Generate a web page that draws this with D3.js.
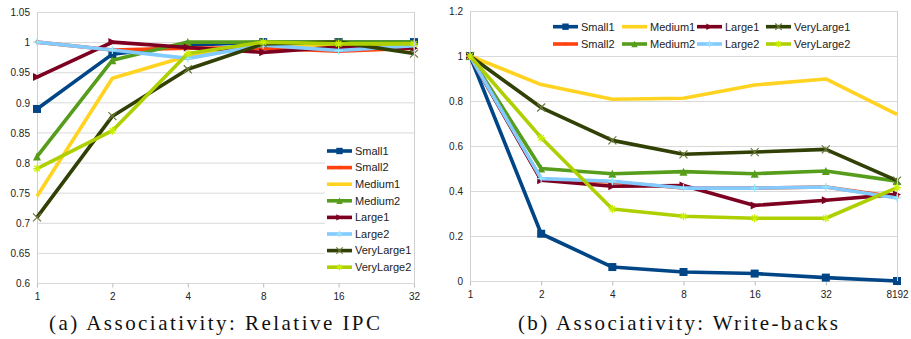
<!DOCTYPE html>
<html>
<head>
<meta charset="utf-8">
<script src="https://cdn.jsdelivr.net/npm/d3@7"></script>
<style>
  body { margin: 0; background: #fff; }
  svg { display: block; }
</style>
</head>
<body>
<div id="chart"></div>
<script>
const seriesNames = ['Small1', 'Small2', 'Medium1', 'Medium2', 'Large1', 'Large2', 'VeryLarge1', 'VeryLarge2'];

const ipcCategories = ['1', '2', '4', '8', '16', '32'];
const ipcTicks = [0.6, 0.65, 0.7, 0.75, 0.8, 0.85, 0.9, 0.95, 1, 1.05];
const ipcSmall1 = [0.889, 0.980, 0.995, 1.000, 1.000, 1.000];
const ipcSmall2 = [1.000, 0.987, 0.990, 0.990, 0.985, 0.990];
const ipcMedium1 = [0.744, 0.940, 0.977, 0.995, 0.995, 0.995];
const ipcMedium2 = [0.810, 0.970, 1.000, 1.000, 1.000, 1.000];
const ipcLarge1 = [0.942, 1.000, 0.991, 0.983, 0.992, 0.990];
const ipcLarge2 = [1.000, 0.987, 0.973, 0.995, 0.986, 0.994];
const ipcVeryLarge1 = [0.709, 0.877, 0.955, 0.997, 1.000, 0.981];
const ipcVeryLarge2 = [0.790, 0.853, 0.981, 1.000, 0.997, 0.997];

const wbCategories = ['1', '2', '4', '8', '16', '32', '8192'];
const wbTicks = [0, 0.2, 0.4, 0.6, 0.8, 1, 1.2];
const wbSmall1 = [1, 0.210, 0.062, 0.040, 0.033, 0.015, 0.000];
const wbSmall2 = [1, 0.450, 0.440, 0.413, 0.413, 0.418, 0.373];
const wbMedium1 = [1, 0.873, 0.808, 0.812, 0.871, 0.898, 0.741];
const wbMedium2 = [1, 0.500, 0.477, 0.486, 0.477, 0.489, 0.444];
const wbLarge1 = [1, 0.448, 0.421, 0.424, 0.336, 0.359, 0.385];
const wbLarge2 = [1, 0.455, 0.443, 0.413, 0.413, 0.418, 0.369];
const wbVeryLarge1 = [1, 0.771, 0.625, 0.563, 0.573, 0.585, 0.446];
const wbVeryLarge2 = [1, 0.637, 0.320, 0.288, 0.279, 0.279, 0.415];

const colors = ['#004586', '#ff420e', '#ffd320', '#579d1c', '#7e0021', '#83caff', '#314004', '#aecf00'];
const markers = ['square', 'diamond', 'none', 'triangle', 'right', 'plus', 'x', 'star'];

const W = 911, H = 339;
const svg = d3.select('#chart').append('svg').attr('width', W).attr('height', H);

function markerPath(kind, s) {
  const h = s / 2;
  switch (kind) {
    case 'square': return `M${-h},${-h}H${h}V${h}H${-h}Z`;
    case 'diamond': return `M0,${-h}L${h},0L0,${h}L${-h},0Z`;
    case 'triangle': return `M0,${-h}L${h},${h}L${-h},${h}Z`;
    case 'right': return `M${-h},${-h}L${h},0L${-h},${h}Z`;
    case 'plus': return `M0,${-h}V${h}M${-h},0H${h}`;
    case 'x': return `M${-h},${-h}L${h},${h}M${h},${-h}L${-h},${h}`;
    case 'star': return `M0,${-h}V${h}M${-h},0H${h}M${-h*0.7},${-h*0.7}L${h*0.7},${h*0.7}M${h*0.7},${-h*0.7}L${-h*0.7},${h*0.7}`;
  }
  return '';
}

function drawMarker(g, kind, color, x, y, big) {
  if (kind === 'none') return;
  const filled = ['square', 'triangle', 'right', 'diamond'].includes(kind);
  const size = kind === 'square' ? 8 : kind === 'diamond' ? 5 : 8;
  const p = g.append('path')
    .attr('transform', `translate(${x},${y})`)
    .attr('d', markerPath(kind, big ? size : size * 0.8));
  if (filled) p.attr('fill', color).attr('stroke', 'none');
  else p.attr('fill', 'none').attr('stroke', kind === 'x' ? '#6b7a3a' : d3.color(color).brighter(0.4)).attr('stroke-width', 1.2);
}

function drawChart(opt) {
  const g = svg.append('g');
  const x = d3.scalePoint().domain(opt.categories).range([opt.x0, opt.x1]);
  const y = d3.scaleLinear().domain([opt.ticks[0], opt.ticks[opt.ticks.length - 1]]).range([opt.y1, opt.y0]);

  // grid
  g.append('g').selectAll('line').data(opt.ticks).enter().append('line')
    .attr('x1', opt.x0).attr('x2', opt.x1)
    .attr('y1', d => y(d) + 0.5).attr('y2', d => y(d) + 0.5)
    .attr('stroke', '#d9d9d9').attr('stroke-width', 1);

  // y axis labels
  const yAxis = g.append('g').attr('transform', `translate(${opt.x0},0.5)`)
    .call(d3.axisLeft(y).tickValues(opt.ticks).tickFormat(d3.format('~g')).tickSize(0).tickPadding(7));
  yAxis.select('.domain').remove();
  yAxis.selectAll('text').attr('font-family', 'Liberation Sans, Arial, sans-serif').attr('font-size', 10).attr('fill', '#222');

  // x axis
  const xAxis = g.append('g').attr('transform', `translate(0,${opt.y1 + 0.5})`)
    .call(d3.axisBottom(x).tickSize(4).tickPadding(5));
  xAxis.select('.domain').remove();
  xAxis.selectAll('line').attr('stroke', '#bbb');
  xAxis.selectAll('text').attr('font-family', 'Liberation Sans, Arial, sans-serif').attr('font-size', 10).attr('fill', '#222');

  // left frame line
  g.append('line').attr('x1', opt.x0 + 0.5).attr('x2', opt.x0 + 0.5).attr('y1', opt.y0).attr('y2', opt.y1)
    .attr('stroke', '#d0d0d0');

  // series
  const line = d3.line().x((d, i) => x(opt.categories[i])).y(d => y(d));
  opt.series.forEach((vals, si) => {
    const sg = g.append('g');
    sg.append('path').datum(vals).attr('d', line)
      .attr('fill', 'none').attr('stroke', colors[si]).attr('stroke-width', 3.6)
      .attr('stroke-linejoin', 'round');
    vals.forEach((v, i) => drawMarker(sg, markers[si], colors[si], x(opt.categories[i]), y(v), true));
  });

  // legend
  const lg = g.append('g');
  if (opt.legendBox) {
    const b = opt.legendBox;
    lg.append('rect').attr('x', b.x).attr('y', b.y).attr('width', b.w).attr('height', b.h).attr('fill', '#fff');
  }
  seriesNames.forEach((name, si) => {
    const p = opt.legendPos(si);
    lg.append('line').attr('x1', p.x).attr('x2', p.x + 25).attr('y1', p.y).attr('y2', p.y)
      .attr('stroke', colors[si]).attr('stroke-width', 3.6);
    drawMarker(lg, markers[si], colors[si], p.x + 12.5, p.y, false);
    lg.append('text').attr('x', p.x + 28).attr('y', p.y).attr('dy', '0.35em')
      .attr('font-family', 'Liberation Sans, Arial, sans-serif').attr('font-size', 11).attr('fill', '#222')
      .text(name);
  });

  // right frame line
  g.append('line').attr('x1', opt.x1 + 0.5).attr('x2', opt.x1 + 0.5).attr('y1', opt.y0).attr('y2', opt.y1)
    .attr('stroke', '#d0d0d0');

  // caption
  g.append('text').attr('x', opt.capX).attr('y', 330)
    .attr('font-family', 'Liberation Serif, serif').attr('font-size', 21).attr('fill', '#111')
    .attr('textLength', opt.capW).attr('lengthAdjust', 'spacing')
    .text(opt.caption);
}

drawChart({
  categories: ipcCategories, ticks: ipcTicks,
  series: [ipcSmall1, ipcSmall2, ipcMedium1, ipcMedium2, ipcLarge1, ipcLarge2, ipcVeryLarge1, ipcVeryLarge2],
  x0: 37, x1: 414, y0: 12, y1: 283,
  legendBox: { x: 325, y: 142, w: 89, h: 134 },
  legendPos: si => ({ x: 327, y: 151 + si * 16.6 }),
  caption: '(a) Associativity: Relative IPC', capX: 49, capW: 331
});

drawChart({
  categories: wbCategories, ticks: wbTicks,
  series: [wbSmall1, wbSmall2, wbMedium1, wbMedium2, wbLarge1, wbLarge2, wbVeryLarge1, wbVeryLarge2],
  x0: 470, x1: 897, y0: 11, y1: 281,
  legendBox: null,
  legendPos: si => ({ x: [553, 622, 697, 766][Math.floor(si / 2)], y: si % 2 === 0 ? 26.7 : 44 }),
  caption: '(b) Associativity: Write-backs', capX: 518, capW: 320
});
</script>
</body>
</html>
